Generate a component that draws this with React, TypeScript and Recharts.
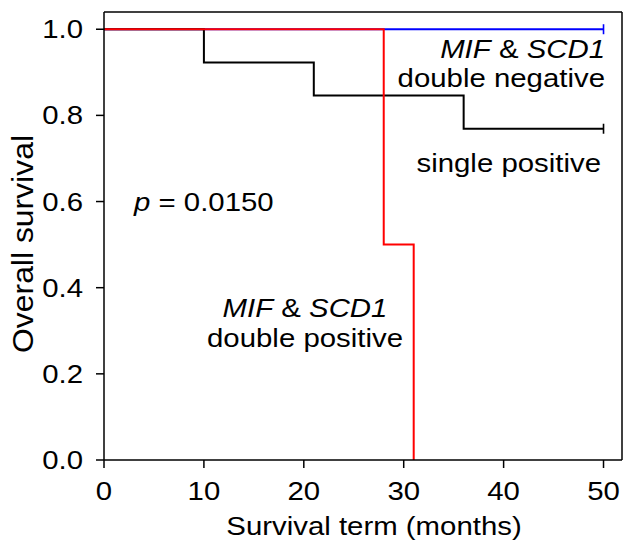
import {
  ComposedChart,
  Line,
  Scatter,
  XAxis,
  YAxis,
  ReferenceLine,
} from "recharts";

// Kaplan-Meier steps
const negTimes = [0, 50];
const negSurv = [1, 1];
const singleTimes = [0, 10, 21, 36, 50];
const singleSurv = [1, 0.923, 0.846, 0.769, 0.769];
const posTimes = [0, 28, 31];
const posSurv = [1, 0.5, 0];

// censored observations
const negCensorTimes = [50];
const negCensorSurv = [1];
const singleCensorTimes = [50];
const singleCensorSurv = [0.769];

const xTicks = [0, 10, 20, 30, 40, 50];
const yTicks = [0, 0.2, 0.4, 0.6, 0.8, 1.0];
const xMax = 51.85;
const yMax = 1.04;

const toRows = (t: number[], s: number[]) => t.map((v, i) => ({ t: v, s: s[i] }));

const negData = toRows(negTimes, negSurv);
const singleData = toRows(singleTimes, singleSurv);
const posData = toRows(posTimes, posSurv);
const negCensor = toRows(negCensorTimes, negCensorSurv);
const singleCensor = toRows(singleCensorTimes, singleCensorSurv);

const FONT = "'Liberation Sans', Arial, sans-serif";
const FS = 26;
const SX = 1.13;

const XTick = (props: any) => {
  const { x, y, payload } = props;
  return (
    <text
      transform={`translate(${x},${y + 18}) scale(${SX},1)`}
      textAnchor="middle"
      fontSize={FS}
      fontFamily={FONT}
      fill="#000"
    >
      {payload.value}
    </text>
  );
};

const YTick = (props: any) => {
  const { x, y, payload } = props;
  return (
    <text
      transform={`translate(${x},${y + 9}) scale(${SX},1)`}
      textAnchor="end"
      fontSize={FS}
      fontFamily={FONT}
      fill="#000"
    >
      {Number(payload.value).toFixed(1)}
    </text>
  );
};

const censorMark = (color: string) => (p: any) => (
  <line x1={p.cx} x2={p.cx} y1={p.cy - 5} y2={p.cy + 5} stroke={color} strokeWidth={1.6} />
);

const T = ({ x, y, anchor, children }: any) => (
  <text
    transform={`translate(${x},${y}) scale(${SX},1)`}
    textAnchor={anchor}
    fontSize={FS}
    fontFamily={FONT}
    fill="#000"
  >
    {children}
  </text>
);

export default function App() {
  return (
    <div style={{ position: "absolute", left: 0, top: 0, width: 624, height: 548, background: "#fff" }}>
      <ComposedChart
        width={624}
        height={548}
        margin={{ top: 12, right: 2, left: 10, bottom: 8 }}
      >
        <XAxis
          type="number"
          dataKey="t"
          domain={[0, xMax]}
          ticks={xTicks}
          allowDataOverflow
          height={80}
          tickSize={8}
          tickMargin={14}
          axisLine={{ stroke: "#000", strokeWidth: 1.5 }}
          tickLine={{ stroke: "#000", strokeWidth: 1.5 }}
          tick={<XTick />}
        />
        <YAxis
          type="number"
          dataKey="s"
          domain={[0, yMax]}
          ticks={yTicks}
          allowDataOverflow
          width={94}
          tickSize={8}
          tickMargin={13}
          axisLine={{ stroke: "#000", strokeWidth: 1.5 }}
          tickLine={{ stroke: "#000", strokeWidth: 1.5 }}
          tick={<YTick />}
        />
        <ReferenceLine y={yMax} stroke="#000" strokeWidth={1.5} />
        <ReferenceLine x={xMax} stroke="#000" strokeWidth={1.5} />
        <Line
          data={negData}
          dataKey="s"
          type="stepAfter"
          stroke="#0000ff"
          strokeWidth={2}
          dot={false}
          isAnimationActive={false}
        />
        <Line
          data={singleData}
          dataKey="s"
          type="stepAfter"
          stroke="#000"
          strokeWidth={2}
          dot={false}
          isAnimationActive={false}
        />
        <Line
          data={posData}
          dataKey="s"
          type="stepAfter"
          stroke="#ff0000"
          strokeWidth={2}
          dot={false}
          isAnimationActive={false}
        />
        <Scatter data={negCensor} dataKey="s" shape={censorMark("#0000ff")} isAnimationActive={false} />
        <Scatter data={singleCensor} dataKey="s" shape={censorMark("#000")} isAnimationActive={false} />
      </ComposedChart>
      <svg
        width={624}
        height={548}
        style={{ position: "absolute", left: 0, top: 0, pointerEvents: "none" }}
      >
        <text
          transform={`translate(33,244) rotate(-90) scale(1.1,1)`}
          textAnchor="middle"
          fontSize={29}
          fontFamily={FONT}
          fill="#000"
        >
          Overall survival
        </text>
        <T x={374} y={535} anchor="middle">Survival term (months)</T>
        <T x={605} y={58} anchor="end">
          <tspan fontStyle="italic">MIF</tspan> &amp; <tspan fontStyle="italic">SCD1</tspan>
        </T>
        <T x={605} y={87} anchor="end">double negative</T>
        <T x={601} y={172} anchor="end">single positive</T>
        <T x={134} y={211} anchor="start">
          <tspan fontStyle="italic">p</tspan> = 0.0150
        </T>
        <T x={305} y={317} anchor="middle">
          <tspan fontStyle="italic">MIF</tspan> &amp; <tspan fontStyle="italic">SCD1</tspan>
        </T>
        <T x={305} y={347} anchor="middle">double positive</T>
      </svg>
    </div>
  );
}
